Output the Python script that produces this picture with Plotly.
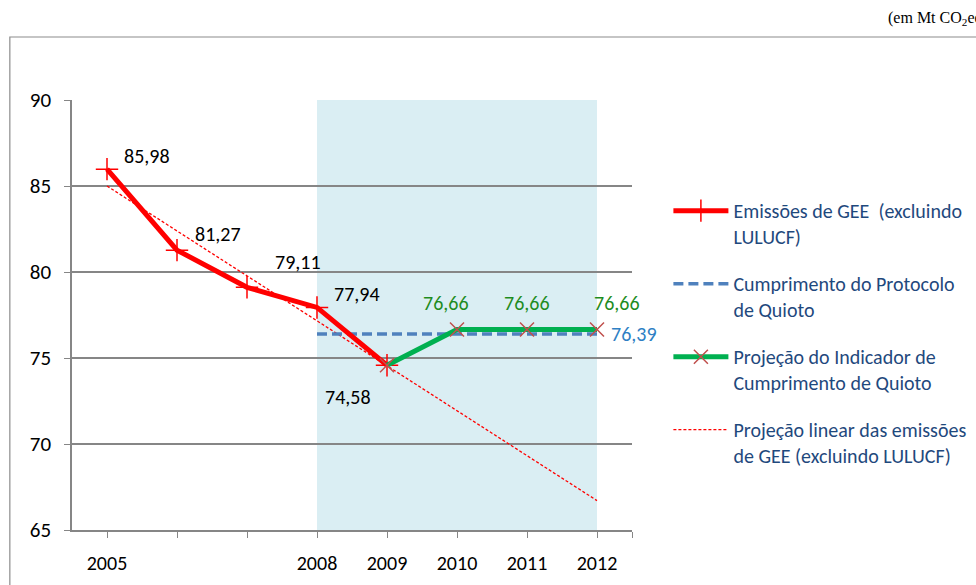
import plotly.graph_objects as go

# data
years = [2005, 2006, 2007, 2008, 2009, 2010, 2011, 2012]
year_labels = ['2005', '', '', '2008', '2009', '2010', '2011', '2012']

emission_years = [2005, 2006, 2007, 2008, 2009]
emissions = [85.98, 81.27, 79.11, 77.94, 74.58]
emission_text = ['85,98', '81,27', '79,11', '77,94', '74,58']

kyoto_years = [2008, 2012]
kyoto_target = [76.39, 76.39]

projection_years = [2009, 2010, 2011, 2012]
projection = [74.58, 76.66, 76.66, 76.66]
projection_text = ['76,66', '76,66', '76,66']

trend_values = [85.00, 82.39, 79.78, 77.16, 74.55, 71.94, 69.32, 66.71]

period_start, period_end = 2008, 2012

FONT = 'Carlito, Lato, sans-serif'

fig = go.Figure()

fig.add_trace(go.Scatter(
    x=years, y=trend_values, mode='lines',
    line=dict(color='#FF0000', width=1.3, dash='3px,2px'),
    name='Projeção linear das emissões<br>de GEE (excluindo LULUCF)',
    legendgroup='d', legendrank=4))

fig.add_trace(go.Scatter(
    x=kyoto_years, y=kyoto_target, mode='lines',
    line=dict(color='#4F81BD', width=3.5, dash='10px,5px'),
    name='Cumprimento do Protocolo<br>de Quioto',
    legendgroup='b', legendrank=2))

fig.add_trace(go.Scatter(
    x=emission_years, y=emissions, mode='lines+markers',
    line=dict(color='#FF0000', width=5),
    marker=dict(symbol='cross-thin', size=16, line=dict(color='#FF0000', width=1.5)),
    name='Emissões de GEE  (excluindo<br>LULUCF)',
    legendgroup='a', legendrank=1))

fig.add_trace(go.Scatter(
    x=projection_years, y=projection, mode='lines+markers',
    line=dict(color='#00B050', width=5),
    marker=dict(symbol='x-thin', size=14, line=dict(color='#C0504D', width=1.5)),
    name='Projeção do Indicador de<br>Cumprimento de Quioto',
    legendgroup='c', legendrank=3))

# shaded commitment period
fig.add_shape(type='rect', xref='x', yref='y', x0=period_start, x1=period_end,
              y0=65, y1=90, fillcolor='#DAEEF3', line_width=0, layer='below')

# outer frame
fig.add_shape(type='rect', xref='paper', yref='paper', x0=-0.111, x1=2, y0=-1, y1=1.1465,
              line=dict(color='#8C8C8C', width=1.2), fillcolor='rgba(0,0,0,0)')

# data labels
label_shifts = [(40, 13), (41, 16), (51, 25), (40, 13), (-39, -32)]
for xv, yv, txt, (dx, dy) in zip(emission_years, emissions, emission_text, label_shifts):
    fig.add_annotation(x=xv, y=yv, text=txt, showarrow=False, xshift=dx, yshift=dy,
                       font=dict(family=FONT, size=20, color='#000000'))

green_shifts = [(-11, 26), (0, 26), (20, 26)]
for xv, yv, txt, (dx, dy) in zip(projection_years[1:], projection[1:], projection_text, green_shifts):
    fig.add_annotation(x=xv, y=yv, text=txt, showarrow=False, xshift=dx, yshift=dy,
                       font=dict(family=FONT, size=20, color='#1E8C1E'))

fig.add_annotation(x=kyoto_years[-1], y=kyoto_target[-1], text='76,39', showarrow=False,
                   xanchor='left', xshift=12, yshift=0,
                   font=dict(family=FONT, size=20, color='#2E7FC4'))

fig.add_annotation(xref='paper', yref='paper', x=1.454, y=1.19, xanchor='left', yanchor='middle',
                   text='(em Mt CO<sub>2</sub>eq)', showarrow=False,
                   font=dict(family='Liberation Serif, serif', size=16, color='#000000'))

fig.update_xaxes(range=[2004.5, 2012.5], tickvals=years + [2012.5], ticktext=year_labels + [''],
                 ticks='outside', ticklen=6, tickcolor='#868686', showline=True,
                 linecolor='#868686', linewidth=1.5, showgrid=False, zeroline=False,
                 automargin=False,
                 tickfont=dict(family=FONT, size=20, color='#000000'), ticklabelstandoff=8)
fig.update_yaxes(range=[65, 90], dtick=5, ticks='outside', ticklen=6, tickcolor='#868686',
                 showline=True, linecolor='#868686', linewidth=1.5, showgrid=True,
                 gridcolor='#868686', gridwidth=1.5, zeroline=False, automargin=False,
                 tickfont=dict(family=FONT, size=21, color='#000000'), ticklabelstandoff=9)

fig.update_layout(
    width=976, height=585, autosize=False,
    margin=dict(l=72, r=344, t=100, b=55, autoexpand=False),
    plot_bgcolor='rgba(0,0,0,0)', paper_bgcolor='#FFFFFF',
    legend=dict(x=1.065, y=0.788, xanchor='left', yanchor='top', valign='top',
                tracegroupgap=18, itemwidth=55, bgcolor='rgba(0,0,0,0)',
                font=dict(family=FONT, size=20, color='#1F497D')),
    showlegend=True,
)

# drop the default page margin so the figure sits at the window corner
fig.write_html('out.html', config={'displayModeBar': False},
               post_script="document.body.style.margin='0';")
